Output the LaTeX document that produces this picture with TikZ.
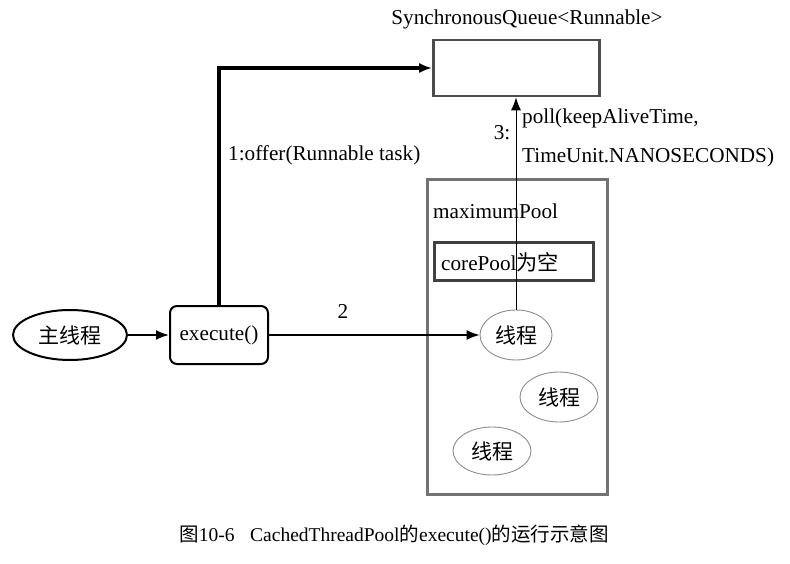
\documentclass[tikz,border=0pt]{standalone}
\usepackage{fontspec}
\setmainfont{Liberation Serif}
\newfontfamily\cjk{Noto Sans CJK SC}
\usetikzlibrary{arrows.meta,shapes.geometric}
\begin{document}
\begin{tikzpicture}[x=1pt,y=-1pt,
  txt/.style={inner sep=0pt,font=\fontsize{21.2}{25}\selectfont},
  thr/.style={ellipse,draw=black!45,line width=0.9pt,inner sep=0pt,font=\fontsize{21}{25}\selectfont},
  box/.style={draw=black!70,line width=2.6pt,inner sep=0pt},
  arr/.style={-{Latex[length=13pt,width=10pt]}}
]
\useasboundingbox (0,0) rectangle (790,564);
% nodes
\node[ellipse,draw,line width=2pt,minimum width=114,minimum height=50,inner sep=0pt,font=\fontsize{21}{25}\selectfont] (main) at (70,335) {\cjk 主线程};
\node[draw,rounded corners=7pt,line width=2pt,minimum width=98,minimum height=58,inner sep=0pt,font=\fontsize{21.2}{25}\selectfont] (exec) at (219,335) {execute()};
\node[box,minimum width=166,minimum height=56] (queue) at (516.5,68) {};
\node[txt,anchor=south] (qlabel) at (527,29) {SynchronousQueue<Runnable>};
\node[draw=black!55,line width=2.8pt,minimum width=180,minimum height=315,inner sep=0pt] (pool) at (517.5,337) {};
\node[txt,anchor=west] (plabel) at (433,211) {maximumPool};
\node[draw=black!75,line width=3pt,minimum width=159,minimum height=38,inner sep=0pt] (core) at (514,261.5) {};
\node[txt,anchor=west] (clabel) at (441,262) {corePool{\cjk 为空}};
\node[thr,minimum width=72,minimum height=50] (t1) at (516,335) {\cjk 线程};
\node[thr,minimum width=78,minimum height=50] (t2) at (559,397) {\cjk 线程};
\node[thr,minimum width=78,minimum height=48] (t3) at (492,451) {\cjk 线程};
% labels
\node[txt,anchor=west] (l1) at (228,155) {1:offer(Runnable task)};
\node[txt] (l2) at (343,311) {2};
\node[txt] (l3) at (502,133) {3:};
\node[txt,anchor=west] (l3a) at (522,118) {poll(keepAliveTime,};
\node[txt,anchor=west] (l3b) at (522,157) {TimeUnit.NANOSECONDS)};
\node[inner sep=0pt,font=\fontsize{19.5}{23}\selectfont] (cap) at (394,535) {{\cjk 图}10-6\hspace{0.8em}CachedThreadPool{\cjk 的}execute(){\cjk 的运行示意图}};
% connectors
\draw[arr,line width=1.8pt] (main) -- (exec);
\draw[arr,line width=3.2pt] (exec.north) |- (queue.west);
\draw[arr,line width=1.4pt] (exec.east) -- (t1.west);
\draw[arr,line width=1pt] (t1.north) -- (t1.north |- queue.south);
\end{tikzpicture}
\end{document}
